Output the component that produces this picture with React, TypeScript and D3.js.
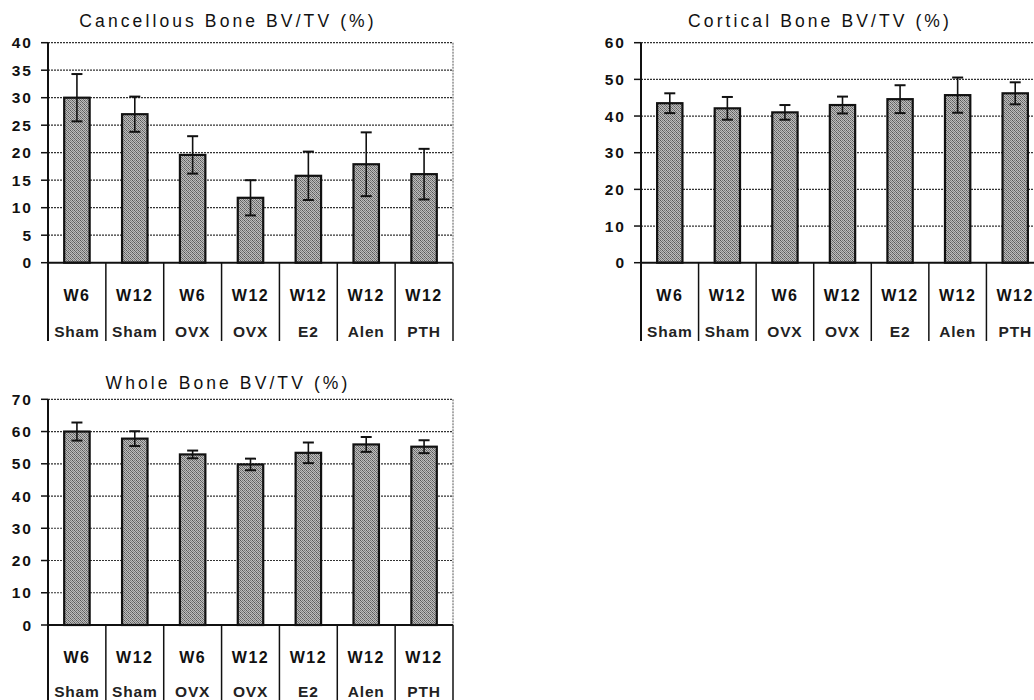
import React from "react";
import * as d3 from "d3";

const weeks = ["W6", "W12", "W6", "W12", "W12", "W12", "W12"];
const groups = ["Sham", "Sham", "OVX", "OVX", "E2", "Alen", "PTH"];

const cancellousMean = [30.0, 27.0, 19.6, 11.8, 15.8, 17.9, 16.1];
const cancellousSD = [4.3, 3.2, 3.4, 3.2, 4.4, 5.8, 4.6];
const corticalMean = [43.5, 42.1, 41.0, 43.0, 44.6, 45.7, 46.2];
const corticalSD = [2.7, 3.1, 2.0, 2.3, 3.8, 4.8, 3.0];
const wholeMean = [60.0, 57.8, 52.9, 49.8, 53.4, 56.0, 55.3];
const wholeSD = [2.8, 2.3, 1.2, 1.8, 3.2, 2.3, 2.0];

const cancellousTicks = [0, 5, 10, 15, 20, 25, 30, 35, 40];
const corticalTicks = [0, 10, 20, 30, 40, 50, 60];
const wholeTicks = [0, 10, 20, 30, 40, 50, 60, 70];

const FONT = "'Liberation Sans', Arial, sans-serif";

type ChartProps = {
  title: string;
  means: number[];
  sds: number[];
  ticks: number[];
  left: number;
  right: number;
  top: number;
  bottom: number;
  tableBottom: number;
  titleX: number;
  titleY: number;
  row2: number;
};

function BarChart(p: ChartProps) {
  const yMax = p.ticks[p.ticks.length - 1];
  const y = d3.scaleLinear().domain([0, yMax]).range([p.bottom, p.top]);
  const idx = d3.range(p.means.length).map(String);
  const x = d3.scaleBand().domain(idx).range([p.left, p.right]).padding(0);
  const bw = x.bandwidth() * 0.44;
  const capW = 11;
  return (
    <g>
      <text
        x={p.titleX}
        y={p.titleY}
        textAnchor="middle"
        fontFamily={FONT}
        fontSize={17.5}
        letterSpacing={3.1}
        fill="#111"
      >
        {p.title}
      </text>
      {p.ticks.map((t) =>
        t === 0 ? null : (
          <line
            key={"g" + t}
            x1={p.left}
            x2={p.right}
            y1={y(t)}
            y2={y(t)}
            stroke="#333"
            strokeWidth={1.2}
            strokeDasharray="2,1"
          />
        )
      )}
      <line x1={p.right} x2={p.right} y1={p.top} y2={p.bottom} stroke="#555" strokeWidth={1} strokeDasharray="2,1" />
      {p.ticks.map((t) => (
        <g key={"t" + t}>
          <line x1={p.left - 7} x2={p.left} y1={y(t)} y2={y(t)} stroke="#111" strokeWidth={1.5} />
          <text
            x={p.left - 15}
            y={y(t)}
            dy="0.36em"
            textAnchor="end"
            fontFamily={FONT}
            fontWeight="bold"
            fontSize={15.5}
            letterSpacing={2}
            fill="#111"
          >
            {t}
          </text>
        </g>
      ))}
      {p.means.map((m, i) => {
        const cx = (x(String(i)) as number) + x.bandwidth() / 2;
        return (
          <rect
            key={"b" + i}
            x={cx - bw / 2}
            y={y(m)}
            width={bw}
            height={y(0) - y(m)}
            fill="url(#stipple)"
            stroke="#111"
            strokeWidth={2.2}
          />
        );
      })}
      {p.means.map((m, i) => {
        const cx = (x(String(i)) as number) + x.bandwidth() / 2;
        const hi = y(m + p.sds[i]);
        const lo = y(m - p.sds[i]);
        return (
          <g key={"e" + i} stroke="#111">
            <line x1={cx} x2={cx} y1={hi} y2={lo} strokeWidth={1.6} />
            <line x1={cx - capW / 2} x2={cx + capW / 2} y1={hi} y2={hi} strokeWidth={2} />
            <line x1={cx - capW / 2} x2={cx + capW / 2} y1={lo} y2={lo} strokeWidth={2} />
          </g>
        );
      })}
      <line x1={p.left} x2={p.right} y1={p.bottom} y2={p.bottom} stroke="#111" strokeWidth={2} />
      <line x1={p.left} x2={p.left} y1={p.top} y2={p.tableBottom} stroke="#111" strokeWidth={2} />
      {idx.map((k, i) => {
        const x0 = x(k) as number;
        const cx = x0 + x.bandwidth() / 2;
        return (
          <g key={"c" + i}>
            <line x1={x0 + x.bandwidth()} x2={x0 + x.bandwidth()} y1={p.bottom} y2={p.tableBottom} stroke="#111" strokeWidth={1.5} />
            <text x={cx} y={p.bottom + 38} textAnchor="middle" fontFamily={FONT} fontWeight="bold" fontSize={16} letterSpacing={1.5} fill="#111">
              {weeks[i]}
            </text>
            <text x={cx} y={p.bottom + p.row2} textAnchor="middle" fontFamily={FONT} fontWeight="bold" fontSize={15.5} letterSpacing={0.8} fill="#222">
              {groups[i]}
            </text>
          </g>
        );
      })}
    </g>
  );
}

export default function App() {
  return (
    <svg
      width={1034}
      height={700}
      style={{ position: "fixed", left: 0, top: 0, background: "#fff" }}
    >
      <defs>
        <pattern id="stipple" width={4} height={4} patternUnits="userSpaceOnUse">
          <rect width={4} height={4} fill="#bdbdbd" />
          <rect x={0} y={0} width={1} height={1} fill="#555" />
          <rect x={2} y={0} width={1} height={1} fill="#7a7a7a" />
          <rect x={1} y={1} width={1} height={1} fill="#666" />
          <rect x={3} y={1} width={1} height={1} fill="#888" />
          <rect x={0} y={2} width={1} height={1} fill="#777" />
          <rect x={2} y={2} width={1} height={1} fill="#5a5a5a" />
          <rect x={3} y={3} width={1} height={1} fill="#6a6a6a" />
          <rect x={1} y={3} width={1} height={1} fill="#8a8a8a" />
        </pattern>
      </defs>
      <rect width={1034} height={700} fill="#fff" />
      <BarChart
        title="Cancellous Bone BV/TV (%)"
        means={cancellousMean}
        sds={cancellousSD}
        ticks={cancellousTicks}
        left={48}
        right={453}
        top={42.7}
        bottom={262.7}
        tableBottom={341}
        titleX={228}
        titleY={27}
        row2={74}
      />
      <BarChart
        title="Cortical Bone BV/TV (%)"
        means={corticalMean}
        sds={corticalSD}
        ticks={corticalTicks}
        left={641}
        right={1044}
        top={42.7}
        bottom={262.7}
        tableBottom={341}
        titleX={820}
        titleY={27}
        row2={74}
      />
      <BarChart
        title="Whole Bone BV/TV (%)"
        means={wholeMean}
        sds={wholeSD}
        ticks={wholeTicks}
        left={48}
        right={453}
        top={399.3}
        bottom={625}
        tableBottom={700}
        titleX={228}
        titleY={389}
        row2={72}
      />
    </svg>
  );
}
